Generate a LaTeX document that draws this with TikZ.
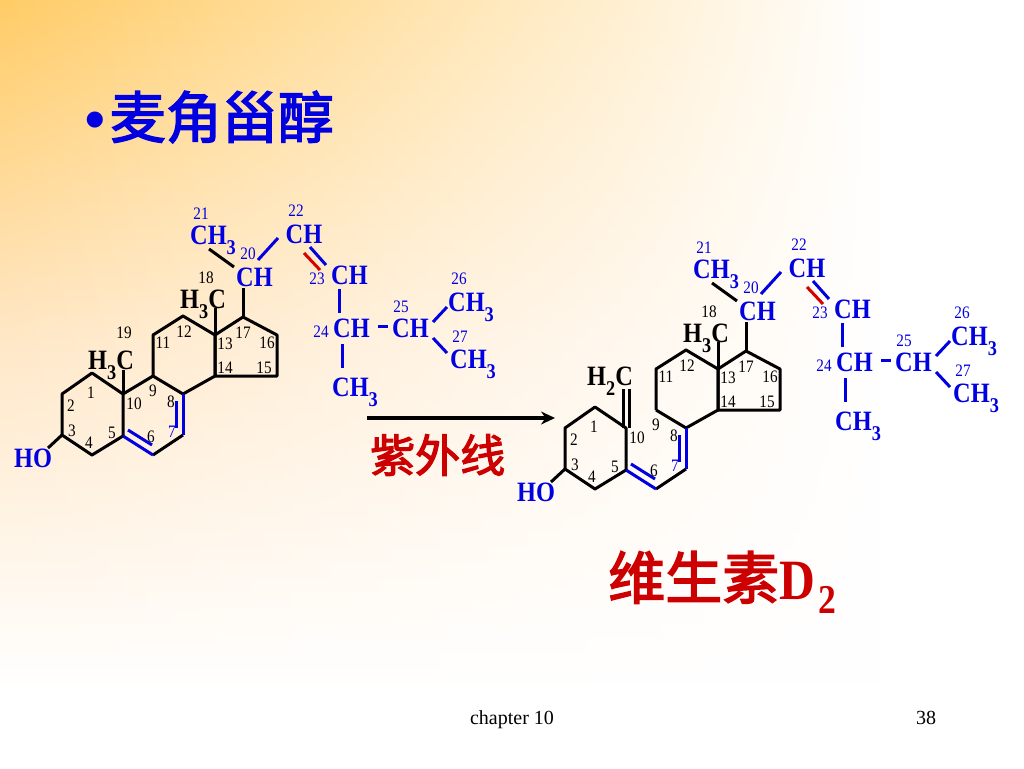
\documentclass[tikz,border=0pt]{standalone}
\usepackage{fontspec}
\setmainfont{Liberation Serif}
\newfontfamily\slim{Liberation Serif}[FakeStretch=0.87]
\newfontfamily\cjk{Noto Sans CJK SC}[FakeBold=2.6]
\newfontfamily\arial{Liberation Sans}
\usetikzlibrary{arrows.meta, fadings}
\definecolor{chemblue}{RGB}{0,0,225}
\definecolor{chemred}{RGB}{204,0,0}
\definecolor{bgtop}{RGB}{255,204,102}
\definecolor{bgmid}{RGB}{255,232,200}
\newcommand{\sub}[1]{\raisebox{-10pt}{\fontsize{21}{21}\selectfont #1}}
\tikzfading[name=bgfade, left color=transparent!100, right color=transparent!0]
\tikzstyle{atom} = [inner sep=0pt, anchor=base west, text=chemblue, font=\fontsize{28}{28}\selectfont\slim\bfseries]
\tikzstyle{atomk} = [atom, text=black]
\tikzstyle{num} = [inner sep=0pt, text=black, font=\fontsize{17.5}{17.5}\selectfont\slim]
\tikzstyle{numb} = [num, text=chemblue]
\tikzstyle{bond} = [line width=3pt, line join=round, black]
\tikzstyle{bondb} = [line width=3pt, chemblue]
\tikzstyle{bondr} = [line width=3pt, red!85!black]
\tikzstyle{arrow} = [line width=3.6pt,-{Stealth[length=14pt,width=13pt]}]
\tikzstyle{footer} = [inner sep=0pt, text=black, font=\fontsize{20}{20}\selectfont]
% skeleton shared by both molecules
\newcommand{\sterol}{
\coordinate (c1) at (92,373);
\coordinate (c2) at (62,394);
\coordinate (c3) at (62,435);
\coordinate (c4) at (92,455);
\coordinate (c5) at (123,436);
\coordinate (c6) at (153,455);
\coordinate (c7) at (183,435);
\coordinate (c8) at (183,394);
\coordinate (c9) at (153,376);
\coordinate (c10) at (123,394);
\coordinate (c11) at (153,335);
\coordinate (c12) at (183,316);
\coordinate (c13) at (215,335);
\coordinate (c14) at (215,376);
\coordinate (c15) at (277,376);
\coordinate (c16) at (277,335);
\coordinate (c17) at (243,317);
\coordinate (in5) at (128,430);
\coordinate (in6) at (152,445);
\coordinate (in7) at (176,428);
\coordinate (in8) at (176,401);
\coordinate (oh) at (48,448);
\coordinate (me18) at (215,308);
\coordinate (st20) at (243,288);

\draw [bond] (c3) -- (c2) -- (c1) -- (c10) -- (c5) -- (c4) -- cycle;
\draw [bond] (c3) -- (oh);
\draw [bond] (c7) -- (c6);
\draw [bond] (c9) -- (c8);
\draw [bond] (c9) -- (c11) -- (c12) -- (c13) -- (c14) -- (c8);
\draw [bond] (c13) -- (c17) -- (c16) -- (c15) -- (c14) -- cycle;
\draw [bond] (c13) -- (me18);
\draw [bond] (c17) -- (st20);
\draw [bondb] (c5) -- (c6);
\draw [bondb] (in5) -- (in6);
\draw [bondb] (c8) -- (c7);
\draw [bondb] (in8) -- (in7);

\node (ho) [atom] at (14,467) {HO};
\node (h18) [atomk] at (180,308) {H\sub{3}C};
\node (ch21) [atom] at (190,244) {CH\sub{3}};
\node (ch20) [atom] at (236,286) {CH};
\node (ch22) [atom] at (285.5,243) {CH};
\node (ch23) [atom] at (331,284) {CH};
\node (ch24) [atom] at (333,337) {CH};
\node (ch25) [atom] at (392,337) {CH};
\node (ch26) [atom] at (448,311) {CH\sub{3}};
\node (ch27) [atom] at (450,368) {CH\sub{3}};
\node (chm) [atom] at (332,396) {CH\sub{3}};

\coordinate (a21) at (209,249);
\coordinate (b21) at (234,267);
\coordinate (a20) at (258,260);
\coordinate (b20) at (278,238);
\coordinate (a22) at (310,247);
\coordinate (b22) at (326,265);
\coordinate (a23) at (304,253);
\coordinate (b23) at (320,270);
\coordinate (a24) at (339,289);
\coordinate (b24) at (339,313);
\coordinate (a25) at (378,326);
\coordinate (b25) at (388,326);
\coordinate (a26) at (433,322);
\coordinate (b26) at (447,307);
\coordinate (a27) at (433,338);
\coordinate (b27) at (447,353);
\coordinate (am) at (342,344);
\coordinate (bm) at (342,368);
\draw [bond] (a21) -- (b21);
\draw [bondb] (a20) -- (b20);
\draw [bondb] (a22) -- (b22);
\draw [bondr] (a23) -- (b23);
\draw [bondb] (a24) -- (b24);
\draw [bondb] (a25) -- (b25);
\draw [bondb] (a26) -- (b26);
\draw [bondb] (a27) -- (b27);
\draw [bondb] (am) -- (bm);

\node (n1) [num] at (91,393) {1};
\node (n2) [num] at (71,406) {2};
\node (n3) [num] at (72,431) {3};
\node (n4) [num] at (89,443) {4};
\node (n5) [num] at (112,433) {5};
\node (n6) [num] at (151,437) {6};
\node (n7) [numb] at (172,432) {7};
\node (n8) [num] at (171,402) {8};
\node (n9) [num] at (153,391) {9};
\node (n10) [num] at (134,404) {10};
\node (n11) [num] at (163,343) {11};
\node (n12) [num] at (184,332) {12};
\node (n13) [num] at (225,344) {13};
\node (n14) [num] at (225,368) {14};
\node (n15) [num] at (264,368) {15};
\node (n16) [num] at (267,343) {16};
\node (n17) [num] at (243,333) {17};
\node (n18) [num] at (206,278) {18};
\node (n20) [numb] at (248,254) {20};
\node (n21) [numb] at (201,214) {21};
\node (n22) [numb] at (296,211) {22};
\node (n23) [numb] at (317,279) {23};
\node (n24) [numb] at (321,332) {24};
\node (n25) [numb] at (401,307) {25};
\node (n26) [numb] at (459,279) {26};
\node (n27) [numb] at (460,337) {27};
}

\begin{document}
\begin{tikzpicture}[x=1pt, y=-1pt]
\useasboundingbox (0,0) rectangle (1024,768);
\shade [top color=bgtop, bottom color=white, middle color=bgmid] (0,0) rectangle (1024,690);
\fill [white] (0,690) rectangle (1024,768);
\fill [white, path fading=bgfade] (0,-6) rectangle (880,696);
\fill [white] (880,-6) rectangle (1024,696);

\node (title) [inner sep=0pt, anchor=west, text=chemblue] at (85,117) {\fontsize{56}{56}\selectfont\arial\bfseries •\kern5pt\cjk\mdseries 麦角甾醇};

% left molecule
\begin{scope}[name prefix=l-]
\sterol
\coordinate (me19) at (123,370);
\draw [bond] (c10) -- (c9);
\draw [bond] (c10) -- (me19);
\node (h19) [atomk] at (88,369) {H\sub{3}C};
\node (n19) [num] at (124,333) {19};
\end{scope}

% right molecule
\begin{scope}[name prefix=r-, shift={(503,34)}]
\sterol
\coordinate (a19) at (120,355);
\coordinate (b19) at (120,394);
\coordinate (a19b) at (126,355);
\coordinate (b19b) at (126,394);
\draw [bond] (a19) -- (b19);
\draw [bond] (a19b) -- (b19b);
\node (h19) [atomk] at (84,351) {H\sub{2}C};
\end{scope}

\coordinate (uvstart) at (367,418);
\coordinate (uvend) at (555,418);
\draw [arrow] (uvstart) -- (uvend);
\node (uv) [inner sep=0pt, anchor=west, text=chemred, font=\fontsize{45}{45}\selectfont\cjk] at (370,455) {紫外线};
\node (vitd) [inner sep=0pt, anchor=base west, text=chemred] at (608,599) {\fontsize{57}{57}\selectfont\cjk 维生素\fontsize{57}{57}\selectfont\slim\bfseries D\kern3pt\raisebox{-14pt}{\fontsize{41}{41}\selectfont 2}};

\node (foot) [footer] at (512,720) {chapter 10};
\node (page) [footer] at (926,718) {38};
\end{tikzpicture}
\end{document}
